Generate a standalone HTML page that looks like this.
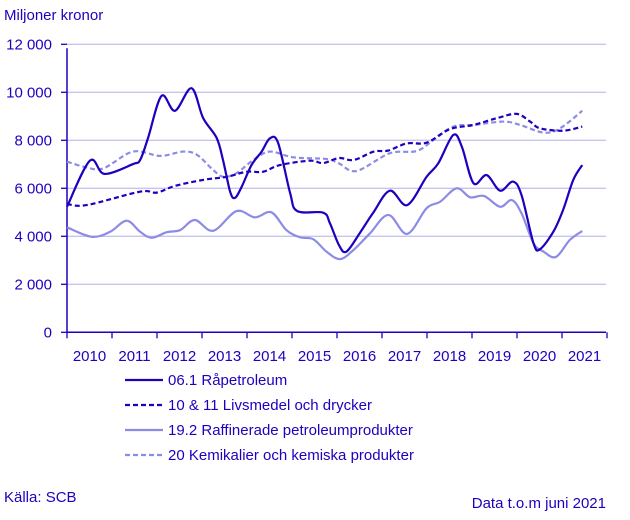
<!DOCTYPE html>
<html><head><meta charset="utf-8"><style>
body{margin:0;background:#fff;width:630px;height:515px;overflow:hidden}
svg text{font-family:"Liberation Sans",sans-serif;fill:#1e00be}
</style></head><body>
<svg id="chart" width="630" height="515" xmlns="http://www.w3.org/2000/svg">
<text x="4" y="20" font-size="15">Miljoner kronor</text>
<g id="grid"></g>
<g id="axes"></g>
<g id="series"></g>
<g>
<g><line x1="125" y1="380" x2="163" y2="380" stroke="#1e00be" stroke-width="2.2"/><text x="168" y="385" font-size="15">06.1 Råpetroleum</text></g>
<g><line x1="125" y1="405" x2="163" y2="405" stroke="#1e00be" stroke-width="2.2" stroke-dasharray="5,3"/><text x="168" y="410" font-size="15">10 &amp; 11 Livsmedel och drycker</text></g>
<g><line x1="125" y1="430" x2="163" y2="430" stroke="#8c8ce6" stroke-width="2.2"/><text x="168" y="435" font-size="15">19.2 Raffinerade petroleumprodukter</text></g>
<g><line x1="125" y1="455" x2="163" y2="455" stroke="#8c8ce6" stroke-width="2.2" stroke-dasharray="5,3"/><text x="168" y="460" font-size="15">20 Kemikalier och kemiska produkter</text></g>
</g>
<text x="4" y="502" font-size="15">Källa: SCB</text>
<text x="606" y="508" font-size="15" text-anchor="end">Data t.o.m juni 2021</text>
</svg>
<script>
const yTicks=[0,2000,4000,6000,8000,10000,12000];
const yTickLabels=["0","2 000","4 000","6 000","8 000","10 000","12 000"];
const years=["2010","2011","2012","2013","2014","2015","2016","2017","2018","2019","2020","2021"];
const oilM=[0,6.1,10,17.6,19.5,21.6,25.2,28.8,33.2,36.3,39.9,41.6,43.5,44.8,46.6,49.2,51.9,54.1,56.3,59.5,61.4,68.3,70.1,72.5,74.5,78.1,81.6,86.1,90.7,95.9,99,103,105.3,108.4,111.9,115.5,118.9,121.2,124.4,126.1,129.7,132.3,135,137.4];
const oilV=[5230,7150,6600,7010,7180,8090,9850,9230,10170,8930,8100,7180,5860,5600,6070,6970,7530,8080,7890,5800,5050,4985,4550,3640,3360,4140,4970,5900,5300,6480,7040,8220,7730,6210,6550,5900,6280,5720,3710,3460,4190,5100,6350,6970];
const foodM=[0,5.2,19.5,23.9,28.8,36.3,42.6,47.9,52.3,56.8,64.8,68.3,72.5,76.5,81.8,85.6,90.6,95.9,102,108.4,114.6,119.9,123.5,126.1,132.3,137.4];
const foodV=[5350,5300,5860,5820,6100,6350,6480,6690,6690,6970,7150,7050,7260,7180,7530,7570,7870,7900,8460,8640,8920,9100,8780,8500,8400,8570];
const refM=[0,6.6,11.5,15.9,19.5,22.6,26.6,30.2,34.1,39,45.2,50.1,54.5,58.5,62.1,65.7,69.2,72.8,76.4,80.8,85.7,90.7,95.9,99.5,103.9,107.5,111.2,115.5,118.6,121.2,124.4,127.1,130.4,134.1,137.4];
const refV=[4375,3980,4190,4650,4190,3940,4170,4260,4680,4230,5050,4790,5000,4260,3960,3875,3360,3050,3430,4125,4890,4100,5170,5440,6000,5625,5680,5230,5510,4960,3710,3360,3140,3850,4220];
const chemM=[0,5.2,9.7,17.6,24.8,31,34.7,39,41.7,45.2,49.7,54.1,60.4,69.2,72.5,77.2,86.1,93.2,97.7,103,108.4,116.4,120.8,127.1,131.5,137.4];
const chemV=[7110,6870,6830,7530,7350,7530,7390,6760,6480,6630,7180,7530,7290,7220,7040,6720,7460,7550,8010,8570,8640,8780,8640,8320,8500,9230];
const X0=67,MW=3.75,Y0=332.3,PX=0.024;
const xs=m=>X0+m*MW, ys=v=>Y0-v*PX;
const NS="http://www.w3.org/2000/svg";
function mk(t,a,p){const e=document.createElementNS(NS,t);for(const k in a)e.setAttribute(k,a[k]);p.appendChild(e);return e;}
const grid=document.getElementById('grid'),axes=document.getElementById('axes'),ser=document.getElementById('series');
yTicks.forEach((v,i)=>{
 if(v>0){const g=mk('line',{x1:X0,x2:606,y1:ys(v),y2:ys(v),stroke:'#c4c4f0','stroke-width':1.3},grid);
 
 }
 const tk=mk('line',{x1:X0-6,x2:X0,y1:ys(v),y2:ys(v),stroke:'#1e00be','stroke-width':1.3},axes);
 
 
 const t=mk('text',{x:52,y:ys(v)+5,'text-anchor':'end','font-size':15},axes);t.textContent=yTickLabels[i];
 
 
});
const ya=mk('line',{x1:X0,x2:X0,y1:ys(12000)+4,y2:Y0,stroke:'#1e00be','stroke-width':1.5},axes);


const xa=mk('line',{x1:X0,x2:606,y1:Y0,y2:Y0,stroke:'#1e00be','stroke-width':1.5},axes);


for(let i=0;i<=years.length;i++){
 const tk=mk('line',{x1:xs(i*12),x2:xs(i*12),y1:Y0,y2:Y0+6,stroke:'#1e00be','stroke-width':1.3},axes);
 
 
 if(i<years.length){const t=mk('text',{x:xs(i*12+6),y:361,'text-anchor':'middle','font-size':15},axes);t.textContent=years[i];
 
 }
}
function path(M,V){const p=M.map((m,i)=>[xs(m),ys(V[i])]);let d='M'+p[0][0]+','+p[0][1];
 for(let i=0;i<p.length-1;i++){const a=p[Math.max(0,i-1)],b=p[i],c=p[i+1],e=p[Math.min(p.length-1,i+2)];
 d+=`C${b[0]+(c[0]-a[0])/6},${b[1]+(c[1]-a[1])/6} ${c[0]-(e[0]-b[0])/6},${c[1]-(e[1]-b[1])/6} ${c[0]},${c[1]}`;}return d;}
const defs=[[chemM,chemV,'#8c8ce6','5,3','series-chemicals'],[refM,refV,'#8c8ce6','','series-refined-petroleum'],[foodM,foodV,'#1e00be','5,3','series-food-drinks'],[oilM,oilV,'#1e00be','','series-crude-oil']];
defs.forEach(s=>{const e=mk('path',{d:path(s[0],s[1]),fill:'none',stroke:s[2],'stroke-width':2.2,'stroke-dasharray':s[3]||'none'},ser);
 
 });
</script>
</body></html>
